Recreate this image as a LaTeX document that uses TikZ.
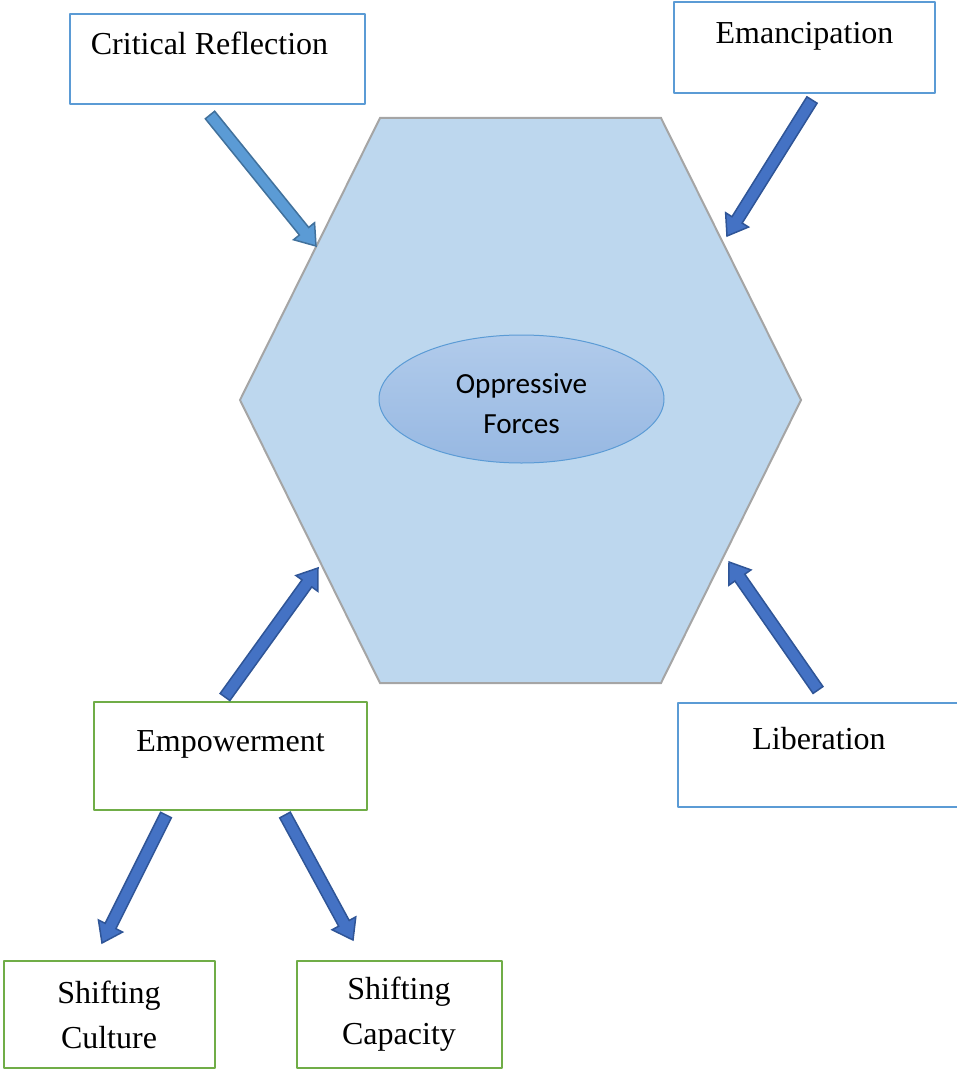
\documentclass[tikz,border=0pt]{standalone}
\usepackage{fontspec}
\setmainfont{Liberation Serif}
\newfontfamily\calibri{Carlito}
\usetikzlibrary{calc,shapes.geometric}
\definecolor{boxblue}{HTML}{5B9BD5}
\definecolor{boxgreen}{HTML}{70AD47}
\definecolor{hexfill}{HTML}{BDD7EE}
\definecolor{hexline}{HTML}{A5A5A5}
\definecolor{arrfill}{HTML}{4472C4}
\definecolor{arrline}{HTML}{2F5597}
\definecolor{lightarr}{HTML}{5B9BD5}
\definecolor{lightarrline}{HTML}{41719C}
\definecolor{elltop}{HTML}{B1CBEB}
\definecolor{ellbot}{HTML}{97B8E2}
\tikzset{
	box/.style={draw, line width=1pt, inner sep=0pt, anchor=north west, font=\fontsize{16}{22.5}\selectfont},
	bluebox/.style={box, draw=boxblue},
	greenbox/.style={box, draw=boxgreen, align=center, minimum height=53.5pt},
	fatarrow/.style={fill=arrfill, draw=arrline, line width=0.75pt, line join=miter},
}
% block arrow from tail #2 to tip #3
\newcommand{\blockarrow}[3][]{%
	\path ($(#3)!\hl!(#2)$) coordinate (bh);
	\draw[fatarrow,#1] ($(#2)!\sw!90:(#3)$) -- ($(bh)!\sw!90:(#3)$) -- ($(bh)!\hw!90:(#3)$) -- (#3)
	-- ($(bh)!\hw!-90:(#3)$) -- ($(bh)!\sw!-90:(#3)$) -- ($(#2)!\sw!-90:(#3)$) -- cycle;}
\begin{document}
\begin{tikzpicture}[x=0.5pt, y=-0.5pt, line join=round]
	\def\sw{3pt} \def\hw{6.75pt} \def\hl{9.5pt} % shaft, head, head length
	\useasboundingbox (0,0) rectangle (957,1070);
	% hexagon
	\draw[fill=hexfill, draw=hexline, line width=1pt, line join=miter]
	(380,118) -- (661,118) -- (801,400) -- (661,683) -- (380,683) -- (240,400) -- cycle;
	\node[ellipse, minimum width=142.5pt, minimum height=64pt, inner sep=0pt, top color=elltop, bottom color=ellbot,
	draw=boxblue, line width=0.5pt] (core) at (521.5,399) {};
	\node[align=center, font=\calibri\fontsize{14.6}{20}\selectfont] (coretxt) at (521.5,404) {Oppressive\\Forces};
	% boxes
	\node[bluebox, minimum width=147.5pt, text height=20.5pt, text depth=24.5pt] (crit) at (69,13) {Critical Reflection\hspace*{8pt}};
	\node[bluebox, minimum width=130.5pt, text height=21pt, text depth=24.5pt] (eman) at (673,1) {Emancipation};
	\node[box, draw=boxgreen, minimum width=136.5pt, text height=24.5pt, text depth=29.5pt] (empow) at (93,701) {Empowerment};
	\node[bluebox, minimum width=141pt, text height=23pt, text depth=29pt] (lib) at (677,702) {Liberation};
	\node[greenbox, minimum width=105.5pt] (cult) at (2.5,960) {Shifting\\Culture};
	\node[greenbox, minimum width=102.5pt] (capa) at (295.5,960) {Shifting\\Capacity};
	% arrow ends
	\foreach \n/\x/\y in {critT/210/115, critH/316/246, emanT/812/100, emanH/727/236,
		empT/225/697, empH/318/568, libT/818/690, libH/729/562,
		cultT/166/815, cultH/102/943, capaT/285/815, capaH/353/940}
	\coordinate (\n) at (\x,\y);
	\blockarrow[fill=lightarr, draw=lightarrline]{critT}{critH}
	\foreach \a/\b in {emanT/emanH, empT/empH, libT/libH, cultT/cultH, capaT/capaH}
	{\blockarrow{\a}{\b}}
\end{tikzpicture}
\end{document}
